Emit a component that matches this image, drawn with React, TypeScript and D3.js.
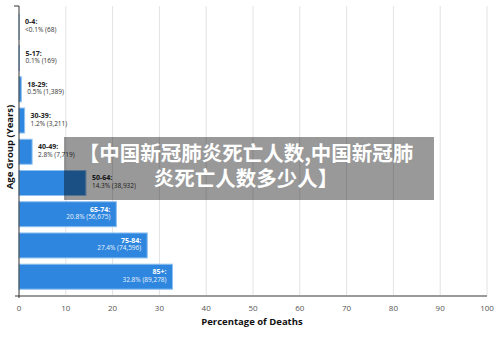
import React from 'react'
import { scaleLinear, scaleBand, format } from 'd3'

const ageGroups = ['0-4', '5-17', '18-29', '30-39', '40-49', '50-64', '65-74', '75-84', '85+']
const percentages = [0.025, 0.1, 0.5, 1.2, 2.8, 14.3, 20.8, 27.4, 32.8]
const deaths = [68, 169, 1389, 3211, 7719, 38932, 56675, 74596, 89278]
const xTicks = [0, 10, 20, 30, 40, 50, 60, 70, 80, 90, 100]

const W = 500
const H = 338
const left = 19
const right = 487
const top = 6
const bottom = 296

const App = () => {
    const x = scaleLinear().domain([0, 100]).range([left, right])
    const y = scaleBand().domain(ageGroups).range([6.5, 297]).paddingInner(0.2).paddingOuter(0.25)
    const fmt = format(',')
    const font = '"Open Sans", "Noto Sans", sans-serif'

    return (
        <svg width={W} height={H} style={{ position: 'absolute', left: 0, top: 0, background: '#fff' }} fontFamily={font}>
            {/* grid */}
            {xTicks.slice(1).map((t) => (
                <line key={t} x1={x(t)} x2={x(t)} y1={top} y2={bottom} stroke='#e3e3e3' strokeWidth={1} />
            ))}
            {/* bars */}
            {ageGroups.map((g, i) => {
                const p = percentages[i]
                const yc = y(g) + y.bandwidth() / 2
                const inside = p > 15
                const lx = inside ? x(p) - 6 : x(p) + 6
                const pctText = p < 0.1 ? '<0.1%' : p + '%'
                return (
                    <g key={g}>
                        <rect x={x(0)} y={y(g)} width={x(p) - x(0)} height={y.bandwidth()}
                            fill='#2e86de' stroke='#8fc0f0' strokeWidth={1} />
                        <text x={lx} y={yc - 2.5} textAnchor={inside ? 'end' : 'start'} fontSize={7}
                            fontWeight='bold' fill={inside ? '#fff' : '#222'}>{g}:</text>
                        <text x={lx} y={yc + 5} textAnchor={inside ? 'end' : 'start'} fontSize={6.5}
                            fill={inside ? '#eaf3fc' : '#333'}>{pctText} ({fmt(deaths[i])})</text>
                    </g>
                )
            })}
            {/* axes */}
            <line x1={15} x2={right} y1={bottom} y2={bottom} stroke='#9a9a9a' strokeWidth={2} />
            <path d={`M14,${top}H${left}V${bottom + 2}`} fill='none' stroke='#333' strokeWidth={1} />
            {xTicks.map((t) => (
                <text key={t} x={x(t)} y={311} textAnchor='middle' fontSize={8} fill='#555'>{t}</text>
            ))}
            <text x={252} y={325} textAnchor='middle' fontSize={9.5} fontWeight='bold' fill='#111'>Percentage of Deaths</text>
            <text transform={`translate(13,147) rotate(-90)`} textAnchor='middle' fontSize={9.5} fontWeight='bold' fill='#111'>Age Group (Years)</text>
            {/* overlay */}
            <rect x={64} y={137} width={370} height={63} fill='rgba(0,0,0,0.4)' />
            <g fontFamily='"Noto Sans CJK SC", sans-serif' fontWeight='bold' fontSize={20.5} fill='#fff' textAnchor='middle'>
                <text x={246} y={161}>【中国新冠肺炎死亡人数,中国新冠肺</text>
                <text x={246} y={186}>炎死亡人数多少人】</text>
            </g>
        </svg>
    )
}

export default App
